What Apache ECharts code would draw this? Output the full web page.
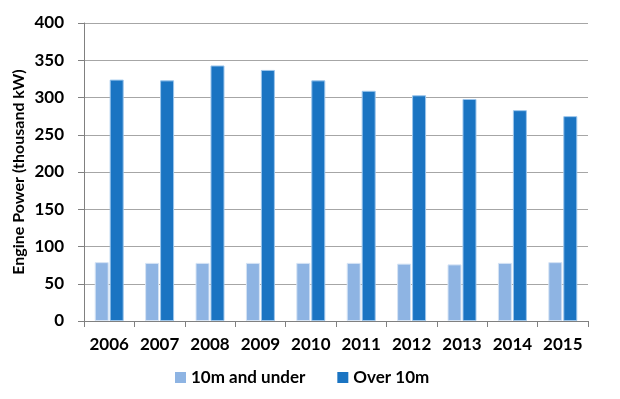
<!DOCTYPE html>
<html>
<head>
<meta charset="utf-8">
<script src="https://cdn.jsdelivr.net/npm/echarts@6/dist/echarts.min.js"></script>
<style>
  html, body { margin: 0; padding: 0; background: #fff; }
  #chart { width: 620px; height: 399px; }
</style>
</head>
<body>
<div id="chart"></div>
<script>
  // years on the x axis
  var years = ['2006', '2007', '2008', '2009', '2010', '2011', '2012', '2013', '2014', '2015'];
  // engine power, thousand kW
  var under10m = [79, 78, 78, 78, 78, 78, 77, 76, 78, 79];
  var over10m = [324, 323, 343, 337, 323, 309, 303, 298, 283, 275];

  var fontFamily = 'Lato, "Open Sans", sans-serif';

  var myChart = echarts.init(document.getElementById('chart'));
  var option = {
    animation: false,
    textStyle: { fontFamily: fontFamily },
    grid: { left: 84, right: 32, top: 23, bottom: 78 },
    legend: {
      data: ['10m and under', 'Over 10m'],
      icon: 'rect',
      left: 170,
      top: 364,
      itemWidth: 11,
      itemHeight: 11,
      itemGap: 32,
      itemStyle: { borderWidth: 0 },
      textStyle: { fontSize: 17, fontWeight: 'bold', color: '#000', fontFamily: fontFamily }
    },
    xAxis: {
      type: 'category',
      data: years,
      axisLine: { lineStyle: { color: '#808080', width: 1 } },
      axisTick: { show: true, interval: 0, length: 6, lineStyle: { color: '#808080' } },
      axisLabel: { interval: 0, margin: 15, fontSize: 17, fontWeight: 'bold', color: '#000', fontFamily: fontFamily }
    },
    yAxis: {
      type: 'value',
      min: 0,
      max: 400,
      interval: 50,
      name: 'Engine Power (thousand kW)',
      nameLocation: 'middle',
      nameMoveOverlap: false,
      nameGap: 57,
      nameTextStyle: { fontSize: 16, fontWeight: 'bold', color: '#000', fontFamily: fontFamily },
      axisLine: { show: true, lineStyle: { color: '#808080', width: 1 } },
      axisTick: { show: true, length: 6, lineStyle: { color: '#808080' } },
      axisLabel: { margin: 20, fontSize: 17, fontWeight: 'bold', color: '#000', fontFamily: fontFamily },
      splitLine: { lineStyle: { color: '#a6a6a6', width: 1 } }
    },
    series: [
      {
        name: '10m and under',
        type: 'bar',
        data: under10m,
        barWidth: 14,
        barGap: '7%',
        itemStyle: { color: '#8eb4e3', borderColor: '#d6e4f5', borderWidth: 1 }
      },
      {
        name: 'Over 10m',
        type: 'bar',
        data: over10m,
        barWidth: 14,
        itemStyle: { color: '#1a74c2', borderColor: '#9cc6ec', borderWidth: 1 }
      }
    ]
  };
  myChart.setOption(option);
</script>
</body>
</html>
